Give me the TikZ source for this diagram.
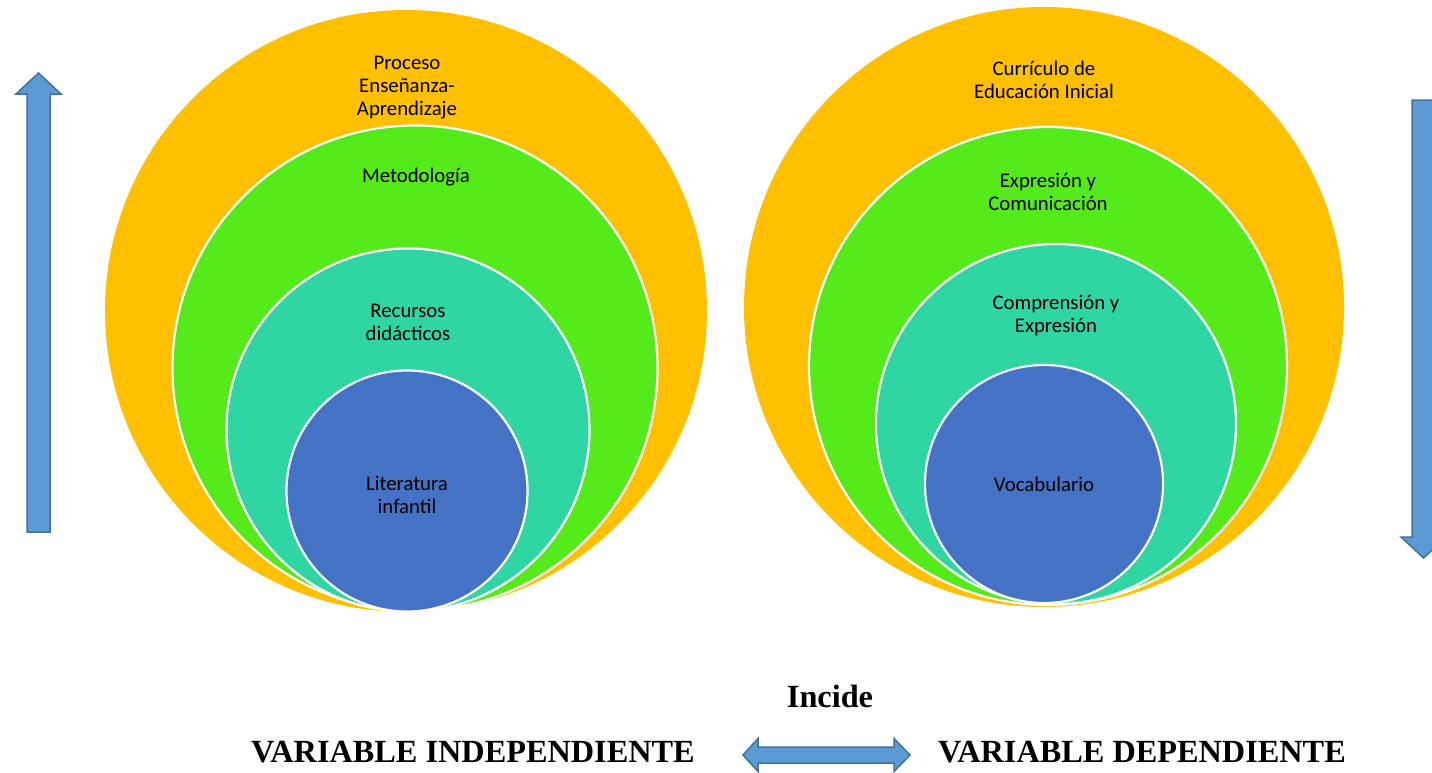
\documentclass[tikz,border=0pt]{standalone}
\usepackage{fontspec}
\setmainfont{Liberation Serif}
\newfontfamily\calibri{Carlito}
\usetikzlibrary{shapes}

\definecolor{ringOrange}{HTML}{FFC000}
\definecolor{ringGreen}{HTML}{55EB1A}
\definecolor{ringTeal}{HTML}{2FD6A3}
\definecolor{ringBlue}{HTML}{4472C4}
\definecolor{arrowFill}{HTML}{5B9BD5}
\definecolor{arrowLine}{HTML}{41719C}

\begin{document}
\begin{tikzpicture}[x = 1bp, y = -1bp, font=\calibri]
	\tikzstyle{ringStyle}=[shape = circle, inner sep = 0pt, draw = white, line width = 2.2bp]
	\tikzstyle{labelStyle}=[align = center, inner sep = 0pt, font = \calibri\fontsize{20.8bp}{23bp}\selectfont]
	\tikzstyle{varStyle}=[anchor = base, inner sep = 0pt, font = \bfseries\fontsize{32.3bp}{36bp}\selectfont]
	\tikzstyle{arrowStyle}=[fill = arrowFill, draw = arrowLine, line width = 1.5bp, line join = miter]
	\clip (0,0) rectangle (1432,772);
	% independent variable
	\node[ringStyle, fill = ringOrange, draw = none, minimum size = 602bp] (oProc) at (406,311) {};
	\node[ringStyle, fill = ringGreen, minimum size = 485bp] (oMet) at (415,368) {};
	\node[ringStyle, fill = ringTeal, minimum size = 363bp] (oRec) at (408,430) {};
	\node[ringStyle, fill = ringBlue, minimum size = 241bp] (oLit) at (407,491) {};
	\node[labelStyle] (tProc) at (407,88) {Proceso\\Enseñanza-\\Aprendizaje};
	\node[labelStyle] (tMet) at (416,177) {Metodología};
	\node[labelStyle] (tRec) at (408,322) {Recursos\\didácticos};
	\node[labelStyle] (tLit) at (407,495) {Literatura\\infantil};
	% dependent variable
	\node[ringStyle, fill = ringOrange, draw = none, minimum size = 600bp] (oCur) at (1044,307) {};
	\node[ringStyle, fill = ringGreen, minimum size = 478bp] (oExp) at (1048,366) {};
	\node[ringStyle, fill = ringTeal, minimum size = 360bp] (oCom) at (1056,424) {};
	\node[ringStyle, fill = ringBlue, minimum size = 238bp] (oVoc) at (1044,484) {};
	\node[labelStyle] (tCur) at (1044,80) {Currículo de\\Educación Inicial};
	\node[labelStyle] (tExp) at (1048,191.5) {Expresión y\\Comunicación};
	\node[labelStyle] (tCom) at (1056,315.5) {Comprensión y\\Expresión};
	\node[labelStyle] (tVoc) at (1044,484) {Vocabulario};
	% arrows
	\draw[arrowStyle] (27,532) -- (27,94) -- (16,94) -- (38.5,73) -- (61,94) -- (50,94) -- (50,532) -- cycle;
	\draw[arrowStyle] (1412,100) -- (1412,537) -- (1401,537) -- (1423.5,558) -- (1446,537) -- (1435,537) -- (1435,100) -- cycle;
	\draw[arrowStyle] (743,755) -- (758,738.5) -- (758,747) -- (894,747) -- (894,738.5) -- (910,755) -- (894,771.5) -- (894,763) -- (758,763) -- (758,771.5) -- cycle;
	% bottom texts
	\node[varStyle] (tInc) at (830,707.5) {Incide};
	\node[varStyle] (tInd) at (473,762.5) {VARIABLE INDEPENDIENTE};
	\node[varStyle] (tDep) at (1142,762.5) {VARIABLE DEPENDIENTE};
\end{tikzpicture}
\end{document}
